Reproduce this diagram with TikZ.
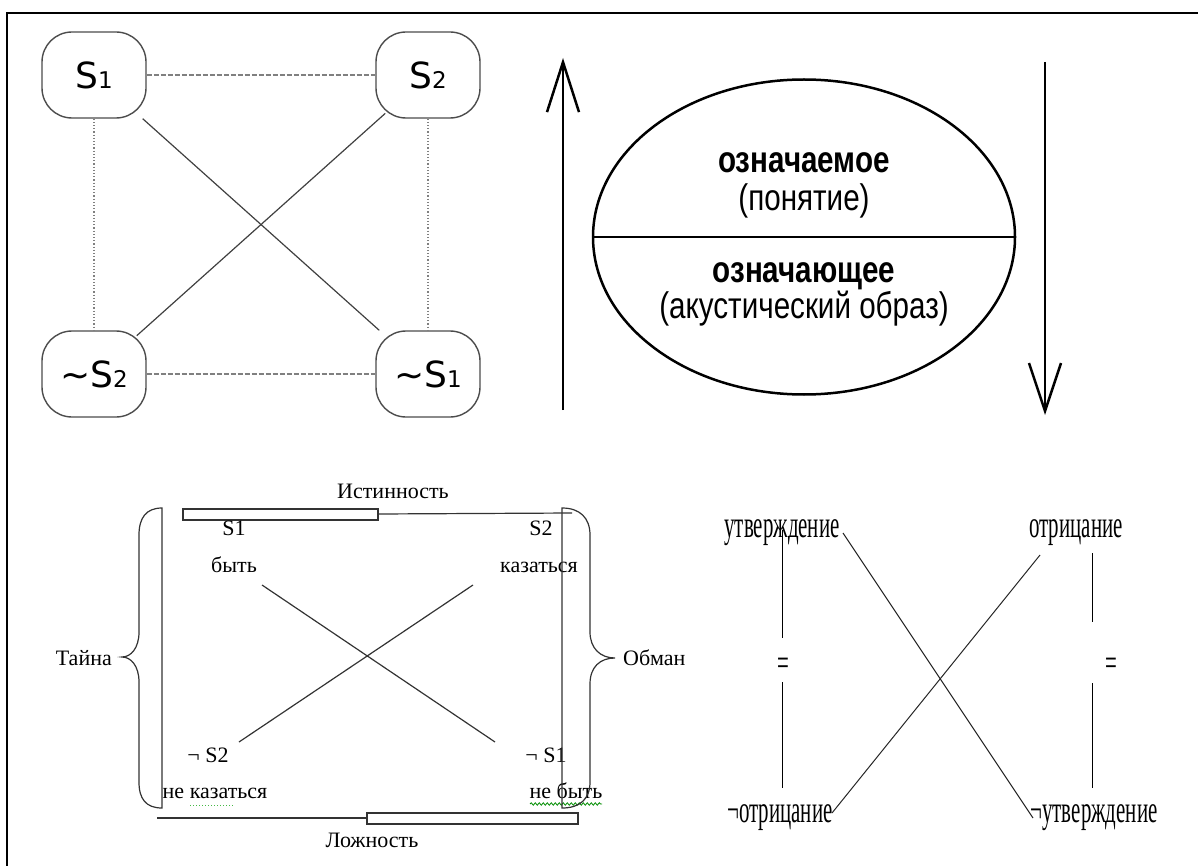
\documentclass[tikz,border=0pt]{standalone}
\usepackage{fontspec}
\setmainfont{Liberation Serif}
\newfontfamily\boxfont{DejaVu Sans}
\newfontfamily\ovalfont[FakeStretch=0.8]{Liberation Sans}
\newfontfamily\tallfont[FakeStretch=0.55]{Liberation Serif}
\usepackage{tikz}
\usetikzlibrary{arrows.meta, shapes.geometric, decorations.pathmorphing}

\newcommand{\lowidx}[1]{{\fontsize{23}{23}\selectfont #1}}

\begin{document}
\begin{tikzpicture}[x=1pt, y=-1pt,
    sq/.style={draw=black!70, line width=1.4, rounded corners=30, minimum width=104, minimum height=86,
        inner sep=0, font=\boxfont\fontsize{36}{36}\selectfont},
    oval/.style={anchor=base, inner sep=0, font=\ovalfont\fontsize{37}{37}\selectfont},
    lbl/.style={anchor=base, inner sep=2, font=\fontsize{22}{22}\selectfont},
    tall/.style={anchor=base, inner sep=2, font=\tallfont\fontsize{38}{38}\selectfont},
    bar/.style={draw=black!80, line width=1.2}]
    \useasboundingbox (0,0) rectangle (1198,866);
    \draw[line width=2.5] (7,866) -- (7,13) -- (1198,13);

    % Square of opposition
    \node[sq] (s1) at (94,75) {S\lowidx{1}};
    \node[sq] (s2) at (428,75) {S\lowidx{2}};
    \node[sq] (ns2) at (94,374) {\textasciitilde S\lowidx{2}};
    \node[sq] (ns1) at (428,374) {\textasciitilde S\lowidx{1}};
    \draw[gray, line width=1.2, dash pattern=on 5pt off 2pt] (s1) -- (s2) (ns2) -- (ns1);
    \draw[gray, line width=1.2, dotted] (s1) -- (ns2) (s2) -- (ns1);
    \draw[black!75, line width=1.2, shorten <=-8pt, shorten >=-8pt] (s1) -- (ns1) (s2) -- (ns2);

    % Sign: signified over signifier
    \coordinate (upfoot) at (563,410);
    \coordinate (uptip) at (563,58);
    \coordinate (dnfoot) at (1045,62);
    \coordinate (dntip) at (1045,415);
    \draw[line width=2.5, -{Straight Barb[length=50pt, width=32pt]}] (upfoot) -- (uptip);
    \draw[line width=2.5, -{Straight Barb[length=48pt, width=32pt]}] (dnfoot) -- (dntip);
    \node[draw, ellipse, line width=2.5, minimum width=422, minimum height=315, inner sep=0] (sign) at (804,237) {};
    \draw[line width=2.5] (sign.west) -- (sign.east);
    \node[oval] (sgd) at (804,173) {\bfseries означаемое};
    \node[oval] (sgdx) at (804,211) {(понятие)};
    \node[oval] (sgr) at (804,283) {\bfseries означающее};
    \node[oval] (sgrx) at (804,318) {(акустический образ)};

    % Truth, falsity, secret, lie
    \node[lbl] (ist) at (393,498) {Истинность};
    \draw[bar] (183,509) rectangle (378,520);
    \draw[bar] (378,514) -- (572,513);
    \node[lbl] (tS1) at (234,535) {S1};
    \node[lbl] (tbyt) at (234,572) {быть};
    \node[lbl] (tS2) at (541,535) {S2};
    \node[lbl] (tkaz) at (539,572) {казаться};
    \node[lbl] (tnS2) at (208,762) {¬ S2};
    \node[lbl] (tnkaz) at (215,798) {не казаться};
    \node[lbl] (tnS1) at (546,762) {¬ S1};
    \node[lbl] (tnbyt) at (566,798) {не быть};
    \draw[green!45!gray, dotted, line width=1] (190,805) -- (233,805);
    \draw[green!55!black, line width=0.8, decorate, decoration={snake, amplitude=1.2, segment length=4}] (530,804) -- (602,804);
    \coordinate (xa1) at (262,585);
    \coordinate (xa2) at (495,742);
    \coordinate (xb1) at (239,742);
    \coordinate (xb2) at (473,585);
    \draw[black!80, line width=1.2] (xa1) -- (xa2) (xb1) -- (xb2);
    \draw[bar] (157,818) -- (367,818);
    \draw[bar] (367,813) rectangle (578,824);
    \node[lbl] (lozh) at (372,847) {Ложность};
    % braces
    \draw[black!80, line width=1.2] (162,508) .. controls (146,508) and (139,518) .. (139,535) -- (139,632)
        .. controls (139,648) and (131,657) .. (122,657) .. controls (131,657) and (139,666) .. (139,682)
        -- (139,782) .. controls (139,799) and (146,808) .. (162,808) -- cycle;
    \node[lbl, anchor=base east] (tajna) at (114,665) {Тайна};
    \draw[black!80, line width=1.2] (562,508) .. controls (580,508) and (590,518) .. (590,535) -- (590,632)
        .. controls (590,648) and (600,658) .. (615,658) .. controls (600,658) and (590,667) .. (590,684)
        -- (590,782) .. controls (590,799) and (580,808) .. (562,808) -- cycle;
    \node[lbl, anchor=base west] (obman) at (621,665) {Обман};

    % Affirmation and negation
    \node[tall] (utv) at (782,537) {утверждение};
    \node[tall] (otr) at (1076,537) {отрицание};
    \node[tall] (notr) at (780,822) {¬отрицание};
    \node[tall] (nutv) at (1094,822) {¬утверждение};
    \node[tall] (eqL) at (783,675) {=};
    \node[tall] (eqR) at (1111,675) {=};
    \coordinate (lt1) at (782,530);
    \coordinate (lt2) at (782,638);
    \coordinate (lb1) at (782,682);
    \coordinate (lb2) at (782,788);
    \coordinate (rt1) at (1092,553);
    \coordinate (rt2) at (1092,622);
    \coordinate (rb1) at (1092,683);
    \coordinate (rb2) at (1092,788);
    \draw[line width=0.9] (lt1) -- (lt2) (lb1) -- (lb2) (rt1) -- (rt2) (rb1) -- (rb2);
    \draw[black!85, line width=1] (843,533) coordinate (ua) -- (1033,818) coordinate (ub);
    \draw[black!85, line width=1] (1040,555) coordinate (oa) -- (832,813) coordinate (ob);
\end{tikzpicture}
\end{document}
